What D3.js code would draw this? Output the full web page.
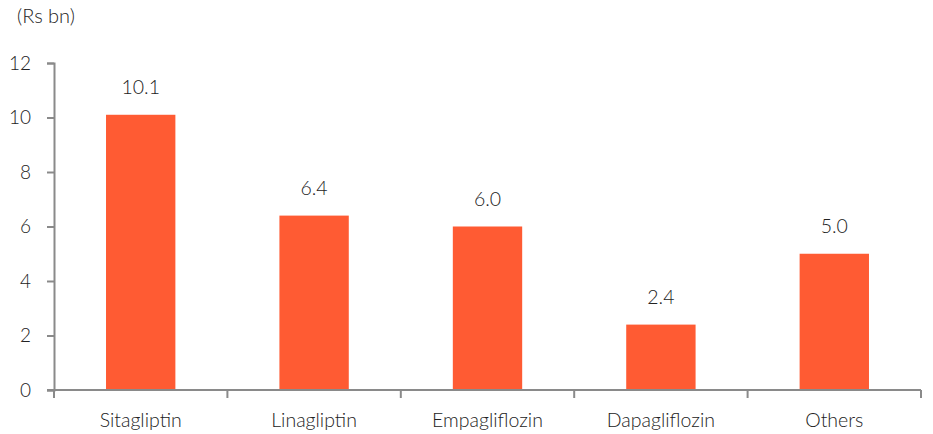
<!DOCTYPE html>
<html>
<head>
<meta charset="utf-8">
<script src="https://cdn.jsdelivr.net/npm/d3@7"></script>
<style>
  html, body { margin: 0; padding: 0; background: #fff; }
  svg { display: block; }
  text { font-family: Lato, "Open Sans", sans-serif; font-weight: 300; fill: #222; }
</style>
</head>
<body>
<svg id="chart" width="933" height="434"></svg>
<script>
// Sales of DPP-4 / SGLT2 diabetes drugs, Rs bn
const categories = ["Sitagliptin", "Linagliptin", "Empagliflozin", "Dapagliflozin", "Others"];
const values = [10.1, 6.4, 6.0, 2.4, 5.0];
const yTicks = [0, 2, 4, 6, 8, 10, 12];
const unitLabel = "(Rs bn)";

const svg = d3.select("#chart");
const margin = { left: 54, right: 12, top: 63, bottom: 44 };
const width = 933, height = 434;

const x = d3.scaleBand()
  .domain(categories)
  .range([margin.left, width - margin.right])
  .paddingInner(0.6)
  .paddingOuter(0.3);

const y = d3.scaleLinear()
  .domain([0, 12])
  .range([height - margin.bottom, margin.top]);

const axisColor = "#8a8a8a";

// y axis
const yAxis = svg.append("g")
  .attr("transform", `translate(${margin.left},0)`)
  .call(d3.axisLeft(y).tickValues(yTicks).tickSize(7).tickPadding(16).tickFormat(d3.format("d")));
yAxis.select(".domain").attr("stroke", axisColor).attr("stroke-width", 2);
yAxis.selectAll(".tick line").attr("stroke", axisColor).attr("stroke-width", 2);
yAxis.selectAll(".tick text").style("font-size", "19px").style("font-family", "Lato, sans-serif").attr("fill", "#222");

// bars
svg.append("g").selectAll("rect")
  .data(categories)
  .join("rect")
  .attr("x", d => x(d))
  .attr("width", x.bandwidth())
  .attr("y", (d, i) => y(values[i]))
  .attr("height", (d, i) => y(0) - y(values[i]))
  .attr("fill", "#ff5b33");

// value labels
svg.append("g").selectAll("text")
  .data(categories)
  .join("text")
  .attr("x", d => x(d) + x.bandwidth() / 2)
  .attr("y", (d, i) => y(values[i]) - 21)
  .attr("text-anchor", "middle")
  .style("font-size", "19.5px")
  .text((d, i) => d3.format(".1f")(values[i]));

// x axis with boundary ticks between categories
const xAxisG = svg.append("g");
const x0 = x.range()[0], x1 = x.range()[1];
xAxisG.append("line")
  .attr("x1", x0 - 7).attr("x2", x1)
  .attr("y1", y(0)).attr("y2", y(0))
  .attr("stroke", axisColor).attr("stroke-width", 2);
const bounds = d3.range(categories.length + 1).map(i => x0 + i * x.step());
xAxisG.selectAll("line.bt")
  .data(bounds)
  .join("line")
  .attr("class", "bt")
  .attr("x1", d => d).attr("x2", d => d)
  .attr("y1", y(0)).attr("y2", y(0) + 8)
  .attr("stroke", axisColor).attr("stroke-width", 2);
xAxisG.selectAll("text")
  .data(categories)
  .join("text")
  .attr("x", d => x(d) + x.bandwidth() / 2)
  .attr("y", y(0) + 37)
  .attr("text-anchor", "middle")
  .style("font-size", "19.5px")
  .text(d => d);

// unit label
svg.append("text")
  .attr("x", 17)
  .attr("y", 23)
  .style("font-size", "20px")
  .text(unitLabel);
</script>
</body>
</html>
